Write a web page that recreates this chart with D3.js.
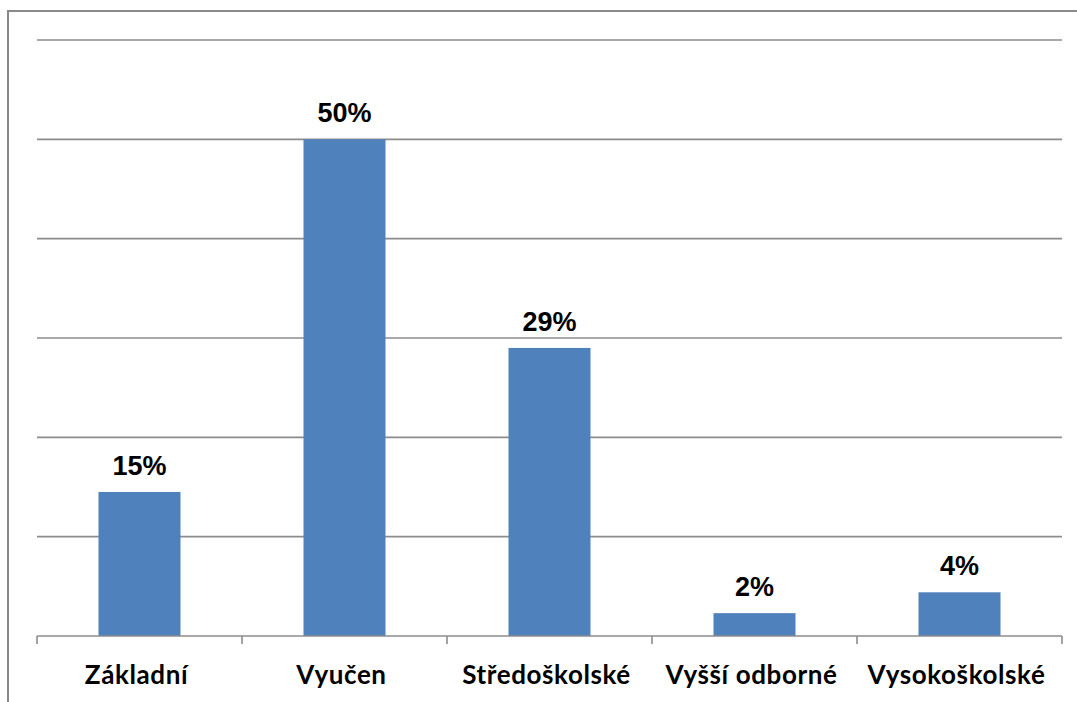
<!DOCTYPE html>
<html>
<head>
<meta charset="utf-8">
<script src="https://cdn.jsdelivr.net/npm/d3@7"></script>
<style>
  body { margin: 0; background: white; }
</style>
</head>
<body>
<svg id="chart" width="1077" height="702"></svg>
<script>
var categories = ["Základní", "Vyučen", "Středoškolské", "Vyšší odborné", "Vysokoškolské"];
var values = [14.5, 50, 29, 2.3, 4.4];
var valueLabels = ["15%", "50%", "29%", "2%", "4%"];
var yTicks = [0, 10, 20, 30, 40, 50, 60];

var svg = d3.select("#chart");

var plotLeft = 37, plotRight = 1062, plotTop = 40, plotBottom = 636;

// outer border of the chart area
svg.append("rect")
  .attr("x", 8)
  .attr("y", 11)
  .attr("width", 1100)
  .attr("height", 720)
  .style("fill", "none")
  .style("stroke", "#8a8a8a")
  .style("stroke-width", 2);

var x = d3.scaleBand().domain(categories).range([plotLeft, plotRight]).paddingInner(0.6).paddingOuter(0.3);
var y = d3.scaleLinear().domain([0, 60]).range([plotBottom, plotTop]);

// gridlines
svg.append("g")
  .selectAll("line")
  .data(yTicks.slice(1))
  .enter()
  .append("line")
  .attr("x1", plotLeft)
  .attr("x2", plotRight)
  .attr("y1", (d) => y(d))
  .attr("y2", (d) => y(d))
  .style("stroke", "#8c8c8c")
  .style("stroke-width", 1.6);

// bars
svg.append("g")
  .selectAll("rect")
  .data(values)
  .enter()
  .append("rect")
  .attr("x", (d, i) => x(categories[i]))
  .attr("y", (d) => y(d))
  .attr("width", x.bandwidth())
  .attr("height", (d) => y(0) - y(d))
  .style("fill", "#4f81bd");

// x axis with ticks at category boundaries
var step = (plotRight - plotLeft) / categories.length;
svg.append("line")
  .attr("x1", plotLeft).attr("x2", plotRight)
  .attr("y1", y(0)).attr("y2", y(0))
  .style("stroke", "#8c8c8c")
  .style("stroke-width", 1.6);

svg.append("g")
  .selectAll("line")
  .data(d3.range(categories.length + 1))
  .enter()
  .append("line")
  .attr("x1", (d) => plotLeft + d * step)
  .attr("x2", (d) => plotLeft + d * step)
  .attr("y1", y(0))
  .attr("y2", y(0) + 8)
  .style("stroke", "#8c8c8c")
  .style("stroke-width", 1.6);

// category labels
svg.append("g")
  .selectAll("text")
  .data(categories)
  .enter()
  .append("text")
  .text((d) => d)
  .attr("x", (d) => x(d) + x.bandwidth() / 2 - 3)
  .attr("y", 684)
  .style("text-anchor", "middle")
  .style("font-family", "Lato, 'Open Sans', sans-serif")
  .style("font-weight", "bold")
  .style("font-size", "26px")
  .style("letter-spacing", "0.6px")
  .style("fill", "#000");

// value labels
svg.append("g")
  .selectAll("text")
  .data(values)
  .enter()
  .append("text")
  .text((d, i) => valueLabels[i])
  .attr("x", (d, i) => x(categories[i]) + x.bandwidth() / 2)
  .attr("y", (d) => y(d) - 17)
  .style("text-anchor", "middle")
  .style("font-family", "'Liberation Sans', Arial, sans-serif")
  .style("font-weight", "bold")
  .style("font-size", "27px")
  .style("fill", "#000");
</script>
</body>
</html>
